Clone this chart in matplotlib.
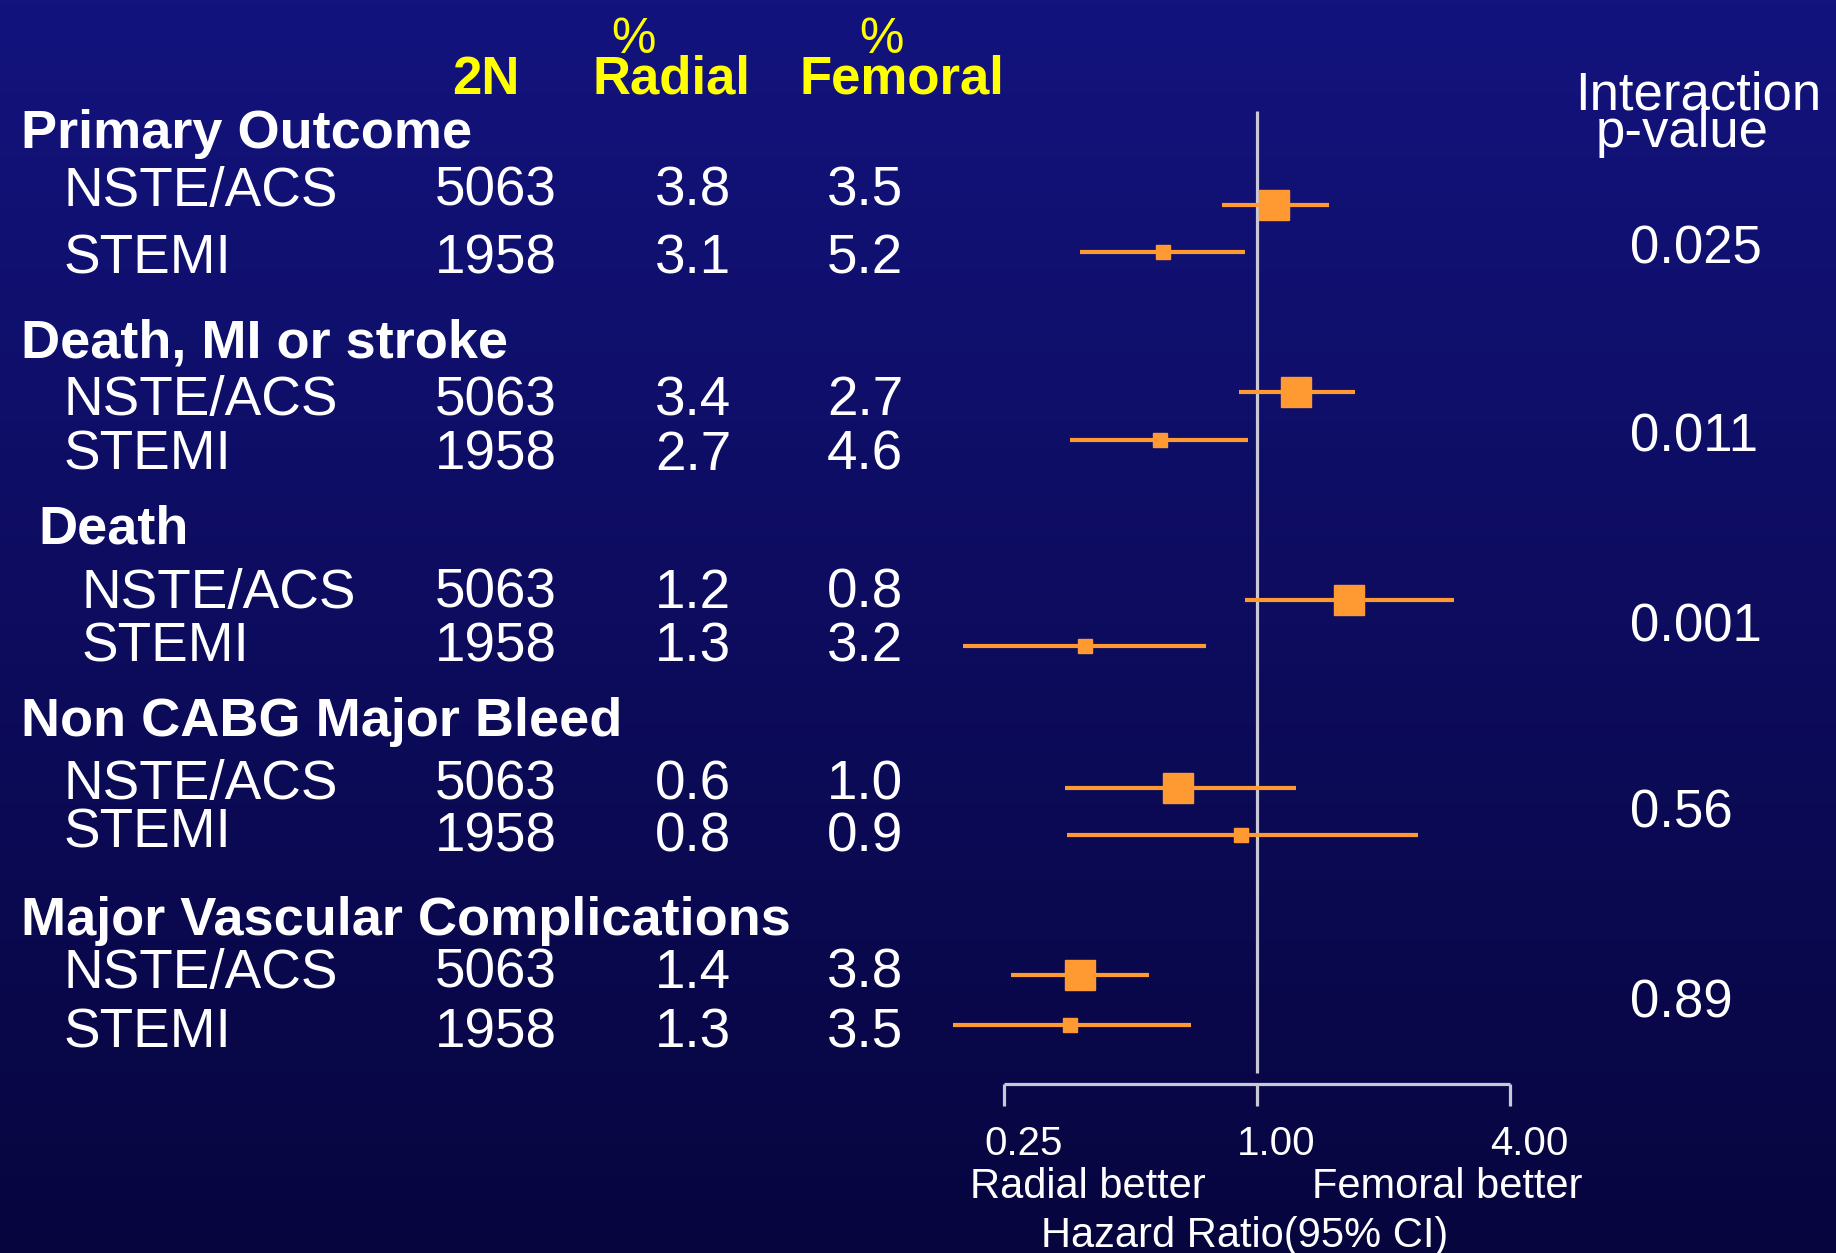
import numpy as np
import matplotlib
matplotlib.use("Agg")
import matplotlib.pyplot as plt
from matplotlib import font_manager
from matplotlib.transforms import offset_copy

# ── Data ──────────────────────────────────────────────────────
groups = ["Primary Outcome", "Death, MI or stroke", "Death",
          "Non CABG Major Bleed", "Major Vascular Complications"]
subgroups = ["NSTE/ACS", "STEMI"]
n_patients = ["5063", "1958"]
pct_radial = [["3.8", "3.1"], ["3.4", "2.7"], ["1.2", "1.3"], ["0.6", "0.8"], ["1.4", "1.3"]]
pct_femoral = [["3.5", "5.2"], ["2.7", "4.6"], ["0.8", "3.2"], ["1.0", "0.9"], ["3.8", "3.5"]]

# hazard ratios and 95% CI, NSTE/ACS then STEMI for each outcome
hr = [1.10, 0.60, 1.24, 0.59, 1.66, 0.39, 0.65, 0.92, 0.38, 0.36]
ci_lo = [0.83, 0.38, 0.91, 0.36, 0.94, 0.20, 0.35, 0.355, 0.26, 0.19]
ci_hi = [1.49, 0.94, 1.72, 0.955, 2.95, 0.76, 1.24, 2.42, 0.555, 0.70]
p_interaction = ["0.025", "0.011", "0.001", "0.56", "0.89"]
axis_ticks = [0.25, 1.0, 4.0]
tick_labels = ["0.25", "1.00", "4.00"]

# ── Layout (figure pixels, y downward) ────────────────────────
W, H = 1836, 1253
heading_base = [148, 357, 543, 736, 935]
heading_x = [21, 21, 38, 21, 21]
row_base = [[206, 274], [415, 470], [608, 662], [799, 852], [988, 1047]]
label_x = [64, 64, 82, 64, 64]
marker_y = [205, 252, 392, 440, 600, 646, 788, 835, 975, 1025]
marker_size = [21, 9.5] * 5
pval_base = [263, 452, 641, 828, 1018]

ORANGE = "#ff9a33"
LINE = "#c8c8d8"
YELLOW = "#ffff00"

names = {f.name for f in font_manager.fontManager.ttflist}
base_font = "Liberation Sans" if "Liberation Sans" in names else "DejaVu Sans"
if "Liberation Sans Narrow" in names:
    head_font, head_size = "Liberation Sans Narrow", 44
else:
    head_font, head_size = base_font, 38
plt.rcParams["font.family"] = [base_font, "DejaVu Sans"]

fig = plt.figure(figsize=(W / 100, H / 100), dpi=100)

# background gradient
bg = fig.add_axes([0, 0, 1, 1])
top = np.array([19, 19, 126]) / 255
bot = np.array([7, 5, 62]) / 255
t = np.linspace(0, 1, 256)[:, None]
grad = (top[None, :] * (1 - t) + bot[None, :] * t)[:, None, :]
bg.imshow(grad, aspect="auto", extent=[0, 1, 0, 1], origin="upper")
bg.axis("off")

# text layer in pixel coordinates
tx = fig.add_axes([0, 0, 1, 1])
tx.set_xlim(0, W)
tx.set_ylim(H, 0)
tx.axis("off")
tx.patch.set_alpha(0)

# column headers
for x, lab in [(486, "2N"), (671, "Radial"), (902, "Femoral")]:
    tx.text(x, 94, lab, color=YELLOW, fontsize=head_size, fontweight="bold",
            family=head_font, ha="center", va="baseline")
for x in [633, 881]:
    tx.text(x, 53, "%", color=YELLOW, fontsize=head_size - 2,
            family=head_font, ha="center", va="baseline")
tx.text(1698, 110, "Interaction", color="white", fontsize=38, ha="center", va="baseline")
tx.text(1682, 147, "p-value", color="white", fontsize=38, ha="center", va="baseline")

for g, name in enumerate(groups):
    tx.text(heading_x[g], heading_base[g], name, color="white", fontsize=39,
            fontweight="bold", ha="left", va="baseline")
    for s in range(2):
        yb = row_base[g][s]
        lab_y = yb - 5 if (g == 3 and s == 1) else yb
        tx.text(label_x[g], lab_y, subgroups[s], color="white", fontsize=39.5,
                ha="left", va="baseline")
        tx.text(496, yb, n_patients[s], color="white", fontsize=39.5, ha="center", va="baseline")
        tx.text(693, yb, pct_radial[g][s], color="white", fontsize=39.5, ha="center", va="baseline")
        tx.text(865, yb, pct_femoral[g][s], color="white", fontsize=39.5, ha="center", va="baseline")
    tx.text(1630, pval_base[g], p_interaction[g], color="white", fontsize=38,
            ha="left", va="baseline")

# forest plot on a log2 scale
x0, x1 = 877, 1636
fx = fig.add_axes([x0 / W, 0, (x1 - x0) / W, 1])
fx.set_xscale("log", base=2)
fx.set_xlim(0.125, 8)
fx.set_ylim(H, 0)
fx.axis("off")
fx.patch.set_alpha(0)

fx.vlines(1.0, 111, 1073, color=LINE, lw=2.3, zorder=1)
fx.hlines(1084, axis_ticks[0], axis_ticks[-1], color=LINE, lw=2.3)
fx.vlines(axis_ticks, 1084, 1106, color=LINE, lw=2.3)

fx.hlines(marker_y, ci_lo, ci_hi, color=ORANGE, lw=3, zorder=2)
for i in range(len(hr)):
    fx.plot(hr[i], marker_y[i], marker="s", ms=marker_size[i], color=ORANGE,
            mec=ORANGE, zorder=3)

shift = offset_copy(fx.transData, fig=fig, x=20, y=0, units="dots")
for v, lab in zip(axis_ticks, tick_labels):
    fx.text(v, 1155, lab, transform=shift, color="white", fontsize=29,
            ha="center", va="baseline")

tx.text(1088, 1198, "Radial better", color="white", fontsize=30, ha="center", va="baseline")
tx.text(1447, 1198, "Femoral better", color="white", fontsize=30, ha="center", va="baseline")
tx.text(1245, 1247, "Hazard Ratio(95% CI)", color="white", fontsize=30, ha="center", va="baseline")

fig.savefig("out.png", dpi=100)
